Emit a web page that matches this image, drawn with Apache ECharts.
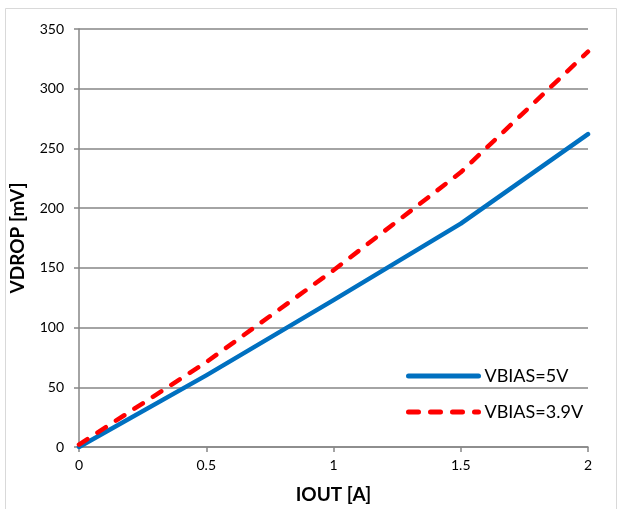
<!DOCTYPE html>
<html>
<head>
<meta charset="utf-8">
<script src="https://cdn.jsdelivr.net/npm/echarts@6/dist/echarts.min.js"></script>
<style>
  html, body { margin: 0; padding: 0; background: #fff; }
  #chart { width: 622px; height: 509px; }
</style>
</head>
<body>
<div id="chart"></div>
<script>
// Output current (A) and dropout voltage (mV) for two bias levels
const iout = [0, 0.5, 1, 1.5, 2];
const vdropBias5 = [0, 60, 123, 187, 262];
const vdropBias39 = [2, 71, 148, 230, 331];
const seriesNames = ['VBIAS=5V', 'VBIAS=3.9V'];

const FONT = 'Lato, "Open Sans", sans-serif';
const GRID = '#868686';

const pairs = (xs, ys) => xs.map((x, i) => [x, ys[i]]);

const chart = echarts.init(document.getElementById('chart'), null, { renderer: 'canvas' });
chart.setOption({
  animation: false,
  backgroundColor: '#fff',
  graphic: [{
    type: 'rect',
    shape: { x: 5.5, y: 8.5, width: 611, height: 510 },
    style: { fill: 'none', stroke: '#d9d9d9', lineWidth: 1 },
    silent: true
  }],
  grid: { left: 77, right: 34, top: 29, bottom: 62 },
  legend: {
    orient: 'vertical',
    left: 401,
    top: 362,
    itemWidth: 70,
    itemHeight: 20,
    itemGap: 18,
    itemStyle: { opacity: 0 },
    lineStyle: { width: 5, cap: 'round' },
    textStyle: { fontFamily: FONT, fontSize: 18, color: '#000', padding: [0, 0, 0, 1] },
    data: seriesNames
  },
  xAxis: {
    type: 'value',
    min: 0, max: 2, interval: 0.5,
    name: 'IOUT [A]',
    nameLocation: 'middle',
    nameGap: 38,
    nameTextStyle: { fontFamily: FONT, fontSize: 19, fontWeight: 'bold', color: '#000' },
    axisLine: { show: true, lineStyle: { color: GRID, width: 1.5 } },
    axisTick: { show: true, length: 5, lineStyle: { color: GRID, width: 1.5 } },
    axisLabel: { fontFamily: FONT, fontSize: 14, color: '#000', margin: 11 },
    splitLine: { show: false }
  },
  yAxis: {
    type: 'value',
    min: 0, max: 350, interval: 50,
    name: 'VDROP [mV]',
    nameLocation: 'middle',
    nameGap: 52,
    nameTextStyle: { fontFamily: FONT, fontSize: 19, fontWeight: 'bold', color: '#000' },
    axisLine: { show: true, lineStyle: { color: GRID, width: 1.5 } },
    axisTick: { show: true, length: 5, lineStyle: { color: GRID, width: 1.5 } },
    axisLabel: { fontFamily: FONT, fontSize: 14, color: '#000', margin: 15 },
    splitLine: { show: true, lineStyle: { color: GRID, width: 1.5 } }
  },
  series: [
    {
      name: seriesNames[0],
      type: 'line',
      symbol: 'none',
      data: pairs(iout, vdropBias5),
      itemStyle: { color: '#0070C0' },
      lineStyle: { color: '#0070C0', width: 4.5, cap: 'round', join: 'round' },
      z: 3
    },
    {
      name: seriesNames[1],
      type: 'line',
      symbol: 'none',
      data: pairs(iout, vdropBias39),
      itemStyle: { color: '#FF0000' },
      lineStyle: { color: '#FF0000', width: 4.5, type: [10, 12], cap: 'round', join: 'round' },
      z: 4
    }
  ]
});
</script>
</body>
</html>
